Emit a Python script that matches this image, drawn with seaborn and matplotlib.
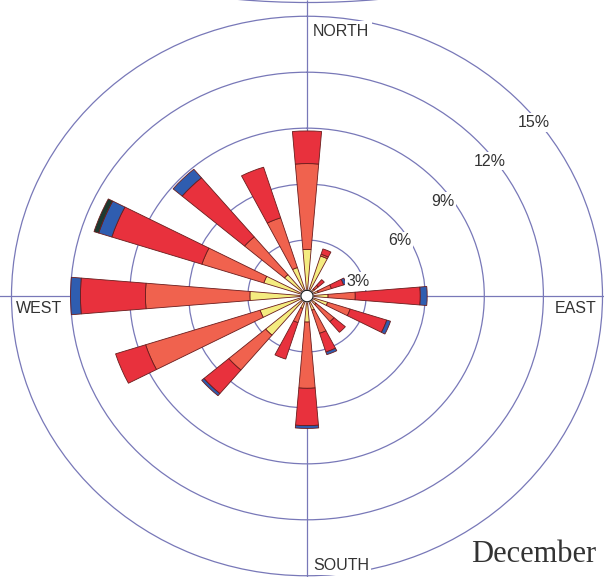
import numpy as np
import pandas as pd
import matplotlib
matplotlib.use("Agg")
import matplotlib.pyplot as plt
from matplotlib.patches import Arc
import seaborn as sns

# Wind directions (16 points, clockwise from north)
directions = ["N", "NNE", "NE", "ENE", "E", "ESE", "SE", "SSE",
              "S", "SSW", "SW", "WSW", "W", "WNW", "NW", "NNW"]

# Frequency (%) of each speed band per direction
speed_1_3 = [2.5, 2.25, 0.5, 0.6, 1.07, 1.1, 0.6, 0.8, 1.4, 0.7, 2.75, 2.5, 2.9, 2.3, 1.5, 1.6]
speed_4_10 = [4.6, 0.1, 0.25, 0.7, 1.38, 1.2, 1.2, 1.3, 3.55, 0.8, 2.45, 6.1, 5.3, 3.3, 2.65, 2.8]
speed_11_21 = [1.75, 0.3, 0.4, 0.65, 3.3, 1.95, 0.75, 1.05, 2.0, 2.05, 1.65, 1.6, 3.3, 4.8, 4.15, 2.85]
speed_22_33 = [0, 0, 0, 0.15, 0.35, 0.2, 0, 0.15, 0.15, 0, 0.15, 0, 0.5, 0.7, 0.6, 0]
speed_34_plus = [0, 0, 0, 0, 0, 0, 0, 0, 0, 0, 0, 0, 0, 0.25, 0, 0]

bands = ["1-3", "4-10", "11-21", "22-33", "34+"]
band_colors = ["#f4ec80", "#f0624e", "#e8313d", "#2f5db0", "#1d3a30"]

ring_values = [3, 6, 9, 12, 15]
ring_labels = ["3%", "6%", "9%", "12%", "15%"]
month = "December"

df = pd.DataFrame({"direction": directions, "1-3": speed_1_3, "4-10": speed_4_10,
                   "11-21": speed_11_21, "22-33": speed_22_33, "34+": speed_34_plus})

sns.set_theme(style="white")
plt.rcParams["font.family"] = ["Liberation Sans", "DejaVu Sans"]
palette = sns.color_palette(band_colors)

W, H = 604, 577
fig = plt.figure(figsize=(W / 100, H / 100), dpi=100)
fig.patch.set_facecolor("white")

# Plot centre and scale (pixels per percent, horizontally / vertically)
cx, cy = 307.0, 296.0
sx, sy = 19.7, 18.65
rmax = 15.85
left = (cx - rmax * sx) / W
bottom = (H - (cy + rmax * sy)) / H
ax = fig.add_axes([left, bottom, 2 * rmax * sx / W, 2 * rmax * sy / H], projection="polar")
ax.set_aspect("auto")
ax.set_facecolor("none")
ax.set_theta_zero_location("N")
ax.set_theta_direction(-1)
ax.set_ylim(0, rmax)

grid_color = "#7878b8"
ax.set_thetagrids([0, 90, 180, 270], labels=["", "", "", ""])
ax.set_rgrids(ring_values, labels=[""] * len(ring_values))
ax.grid(True, color=grid_color, linewidth=0.9)
ax.spines["polar"].set_visible(False)
ax.set_axisbelow(True)

theta = np.deg2rad(np.arange(len(directions)) * 22.5)
width = np.deg2rad(9.6)
base = np.zeros(len(directions))
for band, color in zip(bands, palette):
    vals = df[band].to_numpy()
    mask = vals > 0
    ax.bar(theta[mask], vals[mask], width=width, bottom=base[mask], color=color,
           edgecolor="#6a1c1c", linewidth=0.6, zorder=3)
    base = base + vals

# Centre hole
t = np.linspace(0, 2 * np.pi, 200)
ax.fill(t, np.full_like(t, 0.31), color="white", zorder=5)
ax.plot(t, np.full_like(t, 0.31), color="#222222", linewidth=0.9, zorder=6)

# Ring labels
label_pos = [(72.9, 2.73), (58.0, 5.57), (53.5, 8.56), (52.1, 11.78), (51.0, 14.79)]
for (ang, r), lab in zip(label_pos, ring_labels):
    ax.text(np.deg2rad(ang), r, lab, ha="center", va="center", fontsize=11.5,
            color="#333333", zorder=7,
            bbox=dict(boxstyle="square,pad=0.1", fc="white", ec="none"))

# Edge of the neighbouring rose at the top of the page
R = 8.0
fig.add_artist(Arc((3.08, (H - 2.5) / 100 + R), 2 * R, 2 * R, theta1=250, theta2=290,
                   transform=fig.dpi_scale_trans, color=grid_color, linewidth=0.9))

# Compass labels
txt_kw = dict(fontsize=11.5, color="#333333", va="center", ha="left",
              bbox=dict(boxstyle="square,pad=0.15", fc="white", ec="none"))
fig.text(313 / W, 1 - 31 / H, "NORTH", **txt_kw)
fig.text(313 / W, 1 - 565 / H, "SOUTH", **txt_kw)
fig.text(16 / W, 1 - 308.5 / H, "WEST", **txt_kw)
fig.text(555 / W, 1 - 308.5 / H, "EAST", **txt_kw)

fig.text(471 / W, 1 - 562.5 / H, month, fontsize=22, color="#333333",
         family=["Liberation Serif", "DejaVu Serif"], ha="left", va="baseline")

fig.savefig("out.png", dpi=100, facecolor="white")
